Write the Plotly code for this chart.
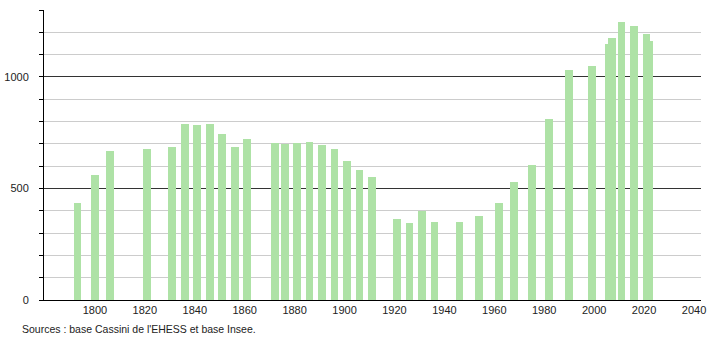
import plotly.graph_objects as go

years = [1793, 1800, 1806, 1821, 1831, 1836, 1841, 1846, 1851, 1856, 1861,
         1872, 1876, 1881, 1886, 1891, 1896, 1901, 1906, 1911,
         1921, 1926, 1931, 1936, 1946, 1954, 1962, 1968, 1975, 1982,
         1990, 1999, 2006, 2007, 2011, 2016, 2021, 2022]
population = [435, 562, 670, 675, 688, 790, 786, 790, 742, 688, 720,
              705, 700, 705, 708, 693, 675, 625, 585, 552,
              363, 346, 397, 351, 348, 378, 435, 528, 604, 813,
              1032, 1050, 1148, 1173, 1244, 1228, 1193, 1162]

y_tickvals = list(range(0, 1301, 100))
y_ticktext = [str(v) if v % 500 == 0 else "" for v in y_tickvals]
x_tickvals = list(range(1800, 2041, 20))
major_lines = [500, 1000]
source_text = "Sources : base Cassini de l'EHESS et base Insee."

fig = go.Figure()
fig.add_trace(go.Bar(
    x=years, y=population, width=3.1,
    marker=dict(color="#aee2a6", line=dict(width=0)),
    hoverinfo="x+y",
))
# invisible helper trace so the overlay axis (dark major grid lines) is drawn
fig.add_trace(go.Scatter(x=[years[0]], y=[0], yaxis="y2", mode="markers",
                         marker=dict(opacity=0), hoverinfo="skip"))

fig.update_layout(
    width=710, height=340,
    margin=dict(l=44, r=9, t=10, b=40, autoexpand=False),
    paper_bgcolor="white", plot_bgcolor="white",
    showlegend=False,
    font=dict(family="Liberation Sans, Arial, sans-serif", size=11, color="#222222"),
    xaxis=dict(range=[1779.6, 2042.8], tickvals=x_tickvals, showgrid=False,
               zeroline=False, showline=True, linecolor="black", linewidth=1,
               ticks="", tickfont=dict(size=11), automargin=False),
    yaxis=dict(range=[0, 1300], tickvals=y_tickvals, ticktext=y_ticktext,
               showgrid=True, gridcolor="#cccccc", gridwidth=1,
               zeroline=False, showline=True, linecolor="black", linewidth=1,
               ticks="outside", ticklen=4, tickcolor="black",
               ticklabelstandoff=8, tickfont=dict(size=11), automargin=False),
    yaxis2=dict(range=[0, 1300], overlaying="y", tickvals=major_lines,
                showticklabels=False, ticks="", showgrid=True,
                gridcolor="#333333", gridwidth=1, zeroline=False,
                showline=False, automargin=False),
    annotations=[dict(text=source_text, xref="paper", yref="paper",
                      x=-24/657, y=-29/290, xanchor="left", yanchor="middle",
                      showarrow=False, font=dict(size=10.5, color="#222222"))],
    bargap=0,
)

fig.write_html("out.html")
